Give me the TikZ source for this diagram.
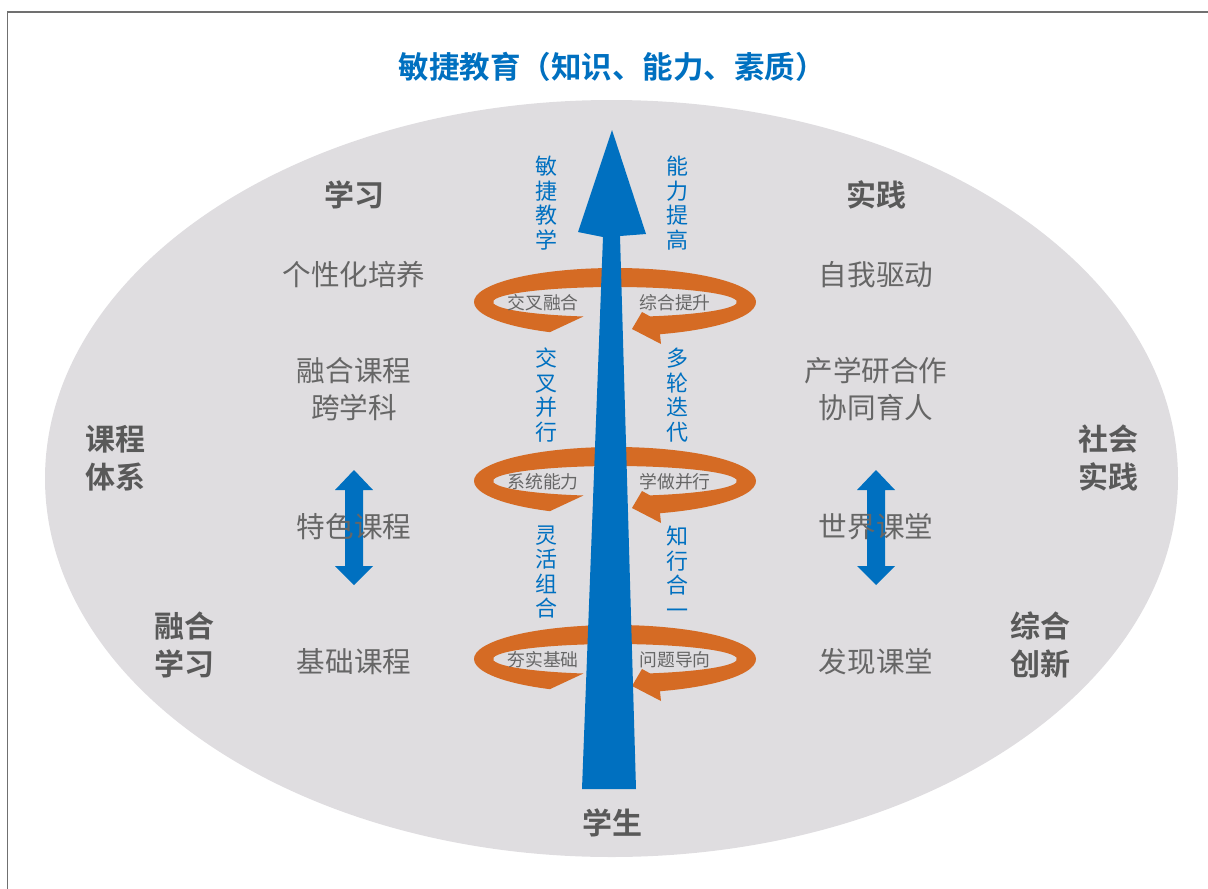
\documentclass[tikz,border=0pt]{standalone}
\usepackage{fontspec}
\setmainfont{Noto Sans CJK SC}[BoldFont={Noto Sans CJK SC Bold}]
\definecolor{ellgray}{RGB}{223,221,224}
\definecolor{mainblue}{RGB}{0,112,192}
\definecolor{ringorange}{RGB}{213,107,36}
\definecolor{boldgray}{RGB}{89,89,89}
\definecolor{txtgray}{RGB}{102,102,102}
\definecolor{framegray}{RGB}{112,112,112}
\tikzset{
  boldlbl/.style={text=boldgray, font=\fontsize{30}{38}\selectfont\bfseries, align=center, inner sep=0pt},
  itemlbl/.style={text=txtgray, font=\fontsize{28.6}{37}\selectfont, align=center, inner sep=0pt},
  vertlbl/.style={text=mainblue, font=\fontsize{22}{24.5}\selectfont, align=center, inner sep=0pt},
  ringlbl/.style={text=txtgray, font=\fontsize{17.8}{20}\selectfont, inner sep=0pt},
  ringfill/.style={fill=ringorange, draw=none},
  bluefill/.style={fill=mainblue, draw=none}
}
\newcommand{\ringat}[2]{%
  \coordinate (#1) at #2;
  \fill[ringfill] ([shift={(#1)}]242.5:141 and 34)
    arc[start angle=242.5, end angle=-71.4, x radius=141, y radius=34]
    -- ([shift={(#1)}]46,-42) -- ([shift={(#1)}]17,-27) -- ([shift={(#1)}]27,-10)
    -- ([shift={(#1)}]-73.3:122 and 15)
    arc[start angle=-73.3, end angle=255, x radius=122, y radius=15] -- cycle;
}
\newcommand{\dblarrow}[1]{%
  \fill[bluefill] (#1,-470) -- ++(19,-20) -- ++(-10,0) -- ++(0,-76) -- ++(10,0)
    -- (#1,-585) -- ++(-19,19) -- ++(10,0) -- ++(0,76) -- ++(-10,0) -- cycle;
}
\begin{document}
\begin{tikzpicture}[x=1pt,y=1pt]
\useasboundingbox (0,0) rectangle (1208,-889);
% frame
\draw[framegray, line width=1.5pt] (7.5,-889) -- (7.5,-12) -- (1208,-12);
% big ellipse
\fill[ellgray] (611.5,-478.5) ellipse[x radius=566.5, y radius=378.5];
% rings
\ringat{r1}{(615,-302)}
\ringat{r2}{(615,-481)}
\ringat{r3}{(615,-659)}
% main arrow
\fill[bluefill] (612,-130) -- (646,-234) -- (620,-236) -- (636,-789) -- (582,-789)
  -- (603,-237) -- (578,-232) -- cycle;
% double arrows
\dblarrow{354}
\dblarrow{876}
% title
\node[text=mainblue, font=\fontsize{30.5}{36}\selectfont\bfseries, inner sep=0pt] (title) at (612,-67) {敏捷教育（知识、能力、素质）};
% headings
\node[boldlbl] (xuexi) at (354,-195) {学习};
\node[boldlbl] (shijian) at (876,-195) {实践};
\node[boldlbl] (kcts) at (115,-458) {课程\\体系};
\node[boldlbl] (shsj) at (1108,-458) {社会\\实践};
\node[boldlbl] (rhxx) at (184,-645) {融合\\学习};
\node[boldlbl] (zhcx) at (1040,-645) {综合\\创新};
\node[boldlbl] (xs) at (612,-823) {学生};
% items
\node[itemlbl] (gxh) at (354,-275) {个性化培养};
\node[itemlbl] (zwqd) at (876,-275) {自我驱动};
\node[itemlbl] (rhkc) at (354,-389) {融合课程\\跨学科};
\node[itemlbl] (cxy) at (876,-389) {产学研合作\\协同育人};
\node[itemlbl] (tskc) at (354,-527) {特色课程};
\node[itemlbl] (sjkt) at (876,-527) {世界课堂};
\node[itemlbl] (jckc) at (354,-662) {基础课程};
\node[itemlbl] (fxkt) at (876,-662) {发现课堂};
% vertical labels
\node[vertlbl] (v1) at (546,-203) {敏\\捷\\教\\学};
\node[vertlbl] (v2) at (677,-203) {能\\力\\提\\高};
\node[vertlbl] (v3) at (546,-395) {交\\叉\\并\\行};
\node[vertlbl] (v4) at (677,-395) {多\\轮\\迭\\代};
\node[vertlbl] (v5) at (546,-572) {灵\\活\\组\\合};
\node[vertlbl] (v6) at (677,-572) {知\\行\\合\\一};
% ring labels
\node[ringlbl] (rl1) at (543,-303) {交叉融合};
\node[ringlbl] (rr1) at (675,-303) {综合提升};
\node[ringlbl] (rl2) at (543,-482) {系统能力};
\node[ringlbl] (rr2) at (675,-482) {学做并行};
\node[ringlbl] (rl3) at (543,-660) {夯实基础};
\node[ringlbl] (rr3) at (675,-660) {问题导向};
\end{tikzpicture}
\end{document}
